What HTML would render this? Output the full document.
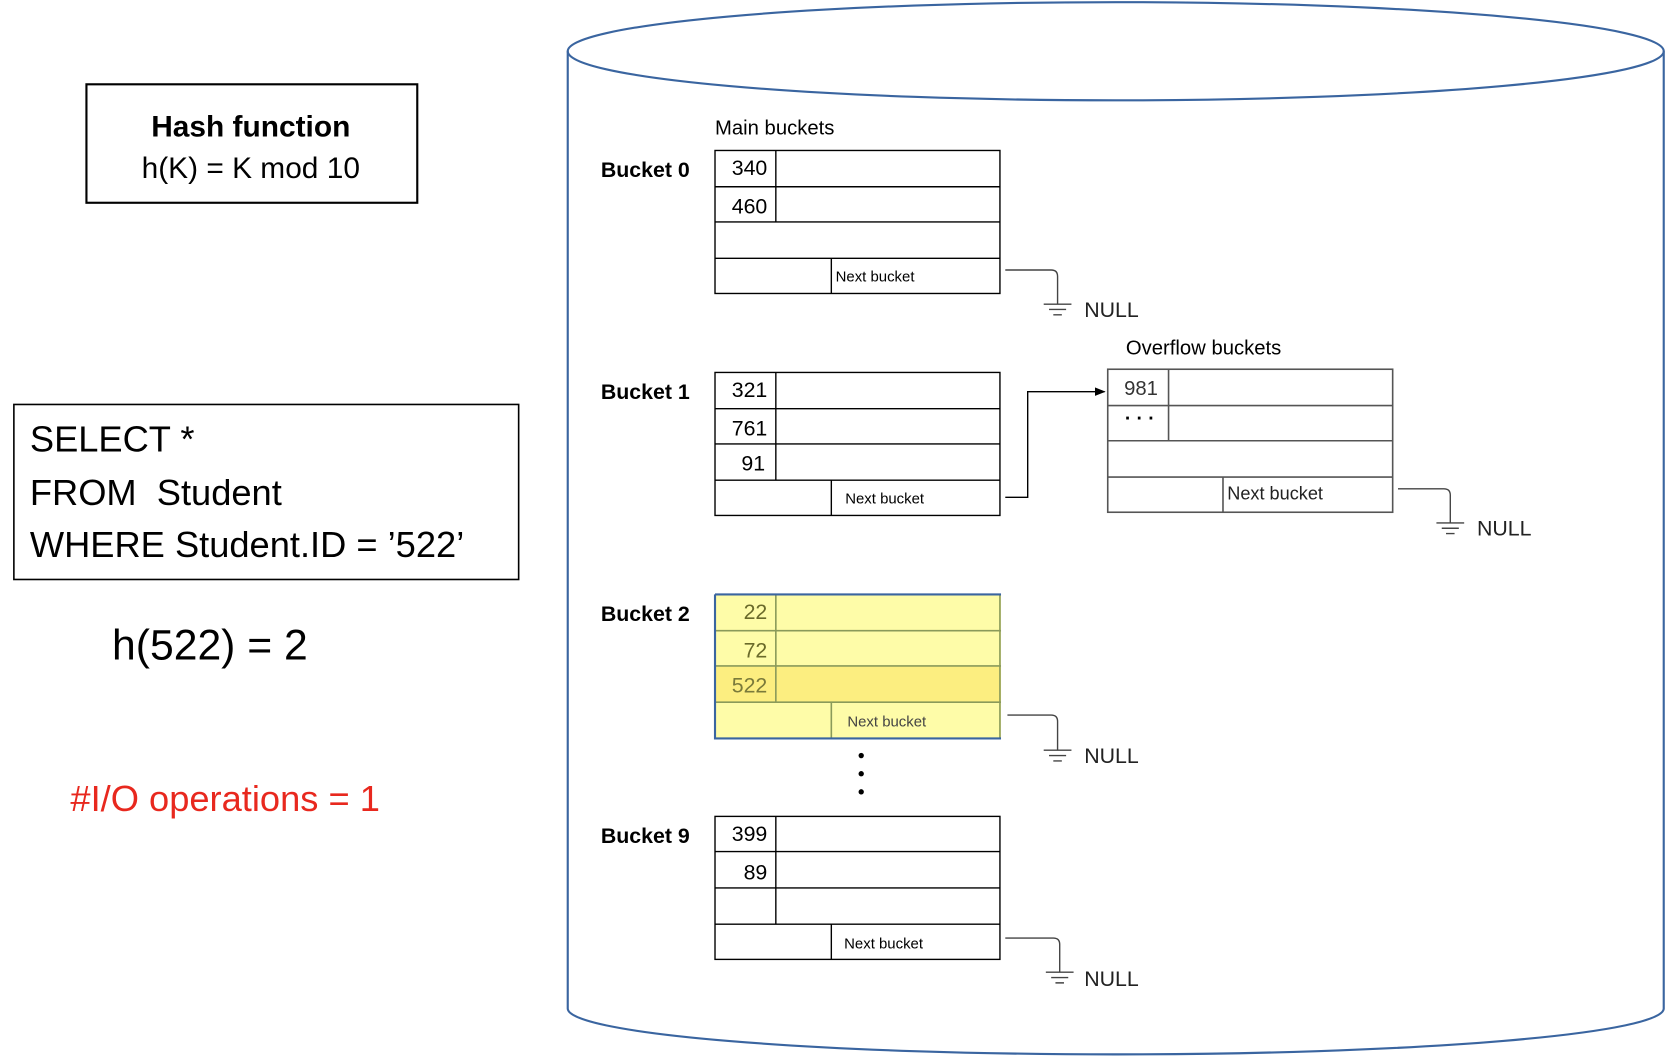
<!DOCTYPE html>
<html><head><meta charset="utf-8"><style>html,body{margin:0;padding:0;background:#fff}svg{display:block}</style></head>
<body>
<svg width="1668" height="1058" viewBox="0 0 1563 991.4" preserveAspectRatio="none" xmlns="http://www.w3.org/2000/svg" font-family="Liberation Sans, sans-serif">
<defs><marker id="ar" markerWidth="10" markerHeight="8" refX="9" refY="4" orient="auto" markerUnits="userSpaceOnUse"><path d="M0,0 L10,4 L0,8 z" fill="#000"/></marker></defs>
<g fill="none" stroke="#3a65a0" stroke-width="2">
<ellipse cx="1045.5" cy="48" rx="513.5" ry="46"/>
<path d="M532,48 V945 A513.5,43 0 0 0 1559,945 V48"/>
</g>
<rect x="81" y="79" width="310" height="111" fill="none" stroke="#000" stroke-width="2"/>
<text x="235" y="128" font-size="28" font-weight="bold" text-anchor="middle">Hash function</text>
<text x="235" y="167" font-size="28" text-anchor="middle">h(K) = K mod 10</text>
<rect x="13" y="379" width="473" height="164" fill="none" stroke="#000" stroke-width="1.5"/>
<text x="28" y="423" font-size="34">SELECT *</text>
<text x="28" y="473" font-size="34" xml:space="preserve">FROM  Student</text>
<text x="28" y="522" font-size="34">WHERE Student.ID = ’522’</text>
<text x="105" y="618" font-size="40">h(522) = 2</text>
<text x="66" y="760" font-size="34" fill="#e8281e">#I/O operations = 1</text>
<text x="670" y="126" font-size="19">Main buckets</text>
<g font-size="20" font-weight="bold"><text x="563" y="166">Bucket 0</text><text x="563" y="374">Bucket 1</text><text x="563" y="582">Bucket 2</text><text x="563" y="790">Bucket 9</text></g>
<g stroke="#000" stroke-width="1.3" fill="none">
<rect x="670" y="141" width="267" height="134"/><path d="M670,175H937M670,208H937M670,242H937M727,141V208M779,242V275"/>
<rect x="670" y="349" width="267" height="134"/><path d="M670,383H937M670,416H937M670,450H937M727,349V450M779,450V483"/>
<rect x="670" y="765" width="267" height="134"/><path d="M670,798H937M670,832H937M670,866H937M727,765V866M779,866V899"/>
</g>
<rect x="670" y="557" width="268" height="135" fill="#fefca8"/>
<rect x="670" y="624" width="268" height="34" fill="#fcee80"/>
<g stroke="#8a9a5a" stroke-width="1.5" fill="none"><path d="M670,591H938M670,624H938M670,658H938M727,557V658M779,658V692M937,557V692"/></g>
<path d="M670,557H938M670,557V692H938" stroke="#3a65a0" stroke-width="2" fill="none"/>
<g font-size="20" fill="#000">
<text x="719" y="164" text-anchor="end">340</text><text x="719" y="200" text-anchor="end">460</text>
<text x="719" y="372" text-anchor="end">321</text><text x="719" y="408" text-anchor="end">761</text><text x="717" y="441" text-anchor="end">91</text>
<text x="719" y="788" text-anchor="end">399</text><text x="719" y="824" text-anchor="end">89</text>
<text x="719" y="580" text-anchor="end" fill="#6a6a2a">22</text><text x="719" y="616" text-anchor="end" fill="#6a6a2a">72</text><text x="719" y="649" text-anchor="end" fill="#7a7a3a">522</text>
</g>
<g font-size="14"><text x="783" y="264">Next bucket</text><text x="792" y="472">Next bucket</text><text x="794" y="681" fill="#444">Next bucket</text><text x="791" y="889">Next bucket</text></g>
<text x="1055" y="332" font-size="19">Overflow buckets</text>
<g stroke="#555" stroke-width="1.5" fill="none"><rect x="1038" y="346" width="267" height="134"/><path d="M1038,380H1305M1038,413H1305M1038,447H1305M1095,346V413M1146,447V480"/></g>
<text x="1085" y="370" font-size="19" text-anchor="end" fill="#333">981</text>
<text x="1068" y="398" font-size="18" font-weight="bold" text-anchor="middle">· · ·</text>
<text x="1150" y="468" font-size="17" fill="#222">Next bucket</text>
<path d="M942,466H963V367H1035" stroke="#000" stroke-width="1.3" fill="none" marker-end="url(#ar)"/>
<g stroke="#444" stroke-width="1.3" fill="none">
<path d="M942,253H985Q991,253 991,259V285M978,285H1004M983,290H999M987,295H995"/>
<path d="M944,670H985Q991,670 991,676V703M978,703H1004M983,708H999M987,713H995"/>
<path d="M942,879H987Q993,879 993,885V911M980,911H1006M985,916H1001M989,921H997"/>
<path d="M1310,458H1353Q1359,458 1359,464V490M1346,490H1372M1351,495H1367M1355,500H1363"/>
</g>
<g font-size="20" fill="#222"><text x="1016" y="297">NULL</text><text x="1016" y="715">NULL</text><text x="1016" y="924">NULL</text><text x="1384" y="502">NULL</text></g>
<g fill="#000"><circle cx="807" cy="708" r="2.5"/><circle cx="807" cy="725" r="2.5"/><circle cx="807" cy="742" r="2.5"/></g>
</svg>
</body></html>
